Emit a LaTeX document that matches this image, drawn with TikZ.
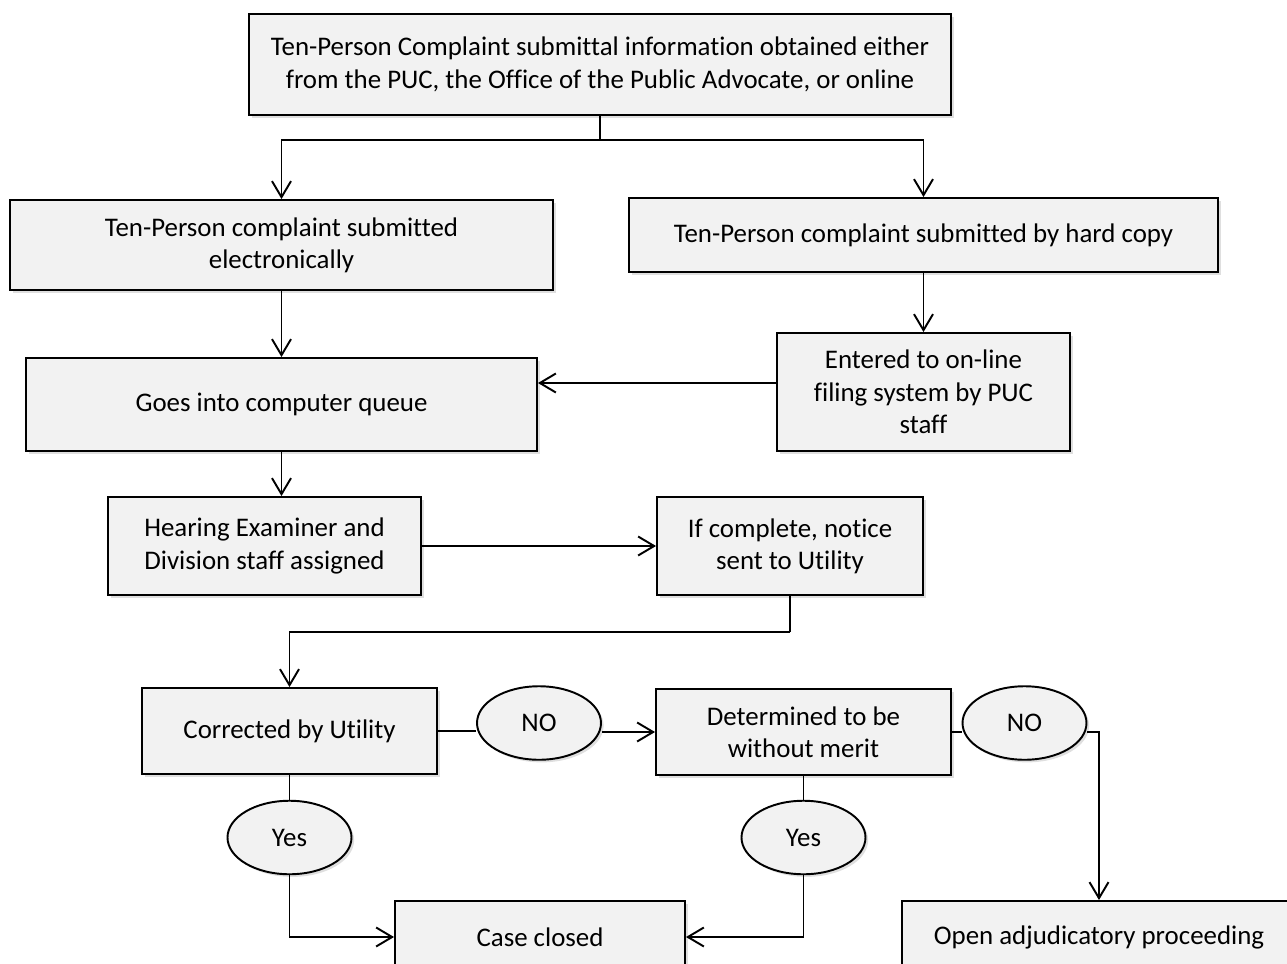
\documentclass[tikz,border=0pt]{standalone}
\usepackage{fontspec}
\setmainfont{Carlito}[Ligatures={NoCommon}]
\usetikzlibrary{arrows.meta,shapes.geometric,shadows}
\definecolor{boxgray}{HTML}{F2F2F2}
\tikzset{
	box/.style={draw=black, line width=1.1pt, fill=boxgray, align=center, inner sep=0pt,
		drop shadow={opacity=0.25, shadow xshift=1.5pt, shadow yshift=-1.5pt}},
	oval/.style={ellipse, draw=black, line width=1.1pt, fill=boxgray, inner sep=0pt,
		minimum width=2.48cm, minimum height=1.47cm,
		drop shadow={opacity=0.25, shadow xshift=1.5pt, shadow yshift=-1.5pt}},
	link/.style={line width=1.1pt},
	arr/.style={link, -{Straight Barb[length=3.2mm, width=3.8mm]}},
}
\begin{document}
\begin{tikzpicture}[font=\fontsize{15.3pt}{18.4pt}\selectfont]
	\useasboundingbox (0,0) rectangle (25.74,-19.28);
	% boxes
	\node[box, minimum width=14.04cm, minimum height=2.02cm] (top) at (12.0,-1.29) {Ten-Person Complaint submittal information obtained either\\ from the PUC, the Office of the Public Advocate, or online};
	\node[box, minimum width=10.86cm, minimum height=1.8cm] (elec) at (5.63,-4.9) {Ten-Person complaint submitted\\ electronically};
	\node[box, minimum width=11.78cm, minimum height=1.48cm] (hard) at (18.47,-4.7) {Ten-Person complaint submitted by hard copy};
	\node[box, minimum width=10.22cm, minimum height=1.86cm] (queue) at (5.63,-8.09) {Goes into computer queue};
	\node[box, minimum width=5.86cm, minimum height=2.36cm] (entered) at (18.47,-7.84) {Entered to on-line\\ filing system by PUC\\ staff};
	\node[box, minimum width=6.26cm, minimum height=1.96cm] (hearing) at (5.29,-10.92) {Hearing Examiner and\\ Division staff assigned};
	\node[box, minimum width=5.32cm, minimum height=1.96cm] (notice) at (15.8,-10.92) {If complete, notice\\ sent to Utility};
	\node[box, minimum width=5.9cm, minimum height=1.72cm] (corrected) at (5.79,-14.62) {Corrected by Utility};
	\node[box, minimum width=5.9cm, minimum height=1.72cm] (merit) at (16.07,-14.64) {Determined to be\\ without merit};
	\node[box, minimum width=5.8cm, minimum height=1.44cm] (closed) at (10.8,-18.74) {Case closed};
	\node[box, minimum width=7.88cm, minimum height=1.44cm] (open) at (21.98,-18.74) {Open adjudicatory proceeding};
	% yes / no
	\node[oval] (no1) at (10.78,-14.46) {NO};
	\node[oval] (no2) at (20.49,-14.46) {NO};
	\node[oval] (yes1) at (5.79,-16.75) {Yes};
	\node[oval] (yes2) at (16.07,-16.75) {Yes};
	% split at top
	\coordinate (split) at (12.0,-2.8);
	\draw[link] (top.south) -- (split);
	\draw[arr] (split) -| (elec.north);
	\draw[arr] (split) -| (hard.north);
	% down the columns
	\draw[arr] (elec.south) -- (queue.north);
	\draw[arr] (hard.south) -- (entered.north);
	\draw[arr] ([yshift=0.18cm]entered.west) -- ([yshift=0.18cm]entered.west -| queue.east);
	\draw[arr] (queue.south) -- (queue.south |- hearing.north);
	\draw[arr] (hearing.east) -- (notice.west);
	% back to the left
	\coordinate (bend) at (15.8,-12.64);
	\draw[link] (notice.south) -- (bend);
	\draw[arr] (bend) -| (corrected.north);
	% NO branches
	\draw[link] (corrected.east) -- (corrected.east -| no1.west);
	\draw[arr] (no1.east |- merit.west) -- (merit.west);
	\draw[link] (merit.east) -- (merit.east -| no2.west);
	\draw[arr] (no2.east |- merit.east) -| (open.north);
	% Yes branches
	\draw[link] (corrected.south) -- (yes1.north);
	\draw[arr] (yes1.south) |- (closed.west);
	\draw[link] (merit.south) -- (yes2.north);
	\draw[arr] (yes2.south) |- (closed.east);
\end{tikzpicture}
\end{document}
